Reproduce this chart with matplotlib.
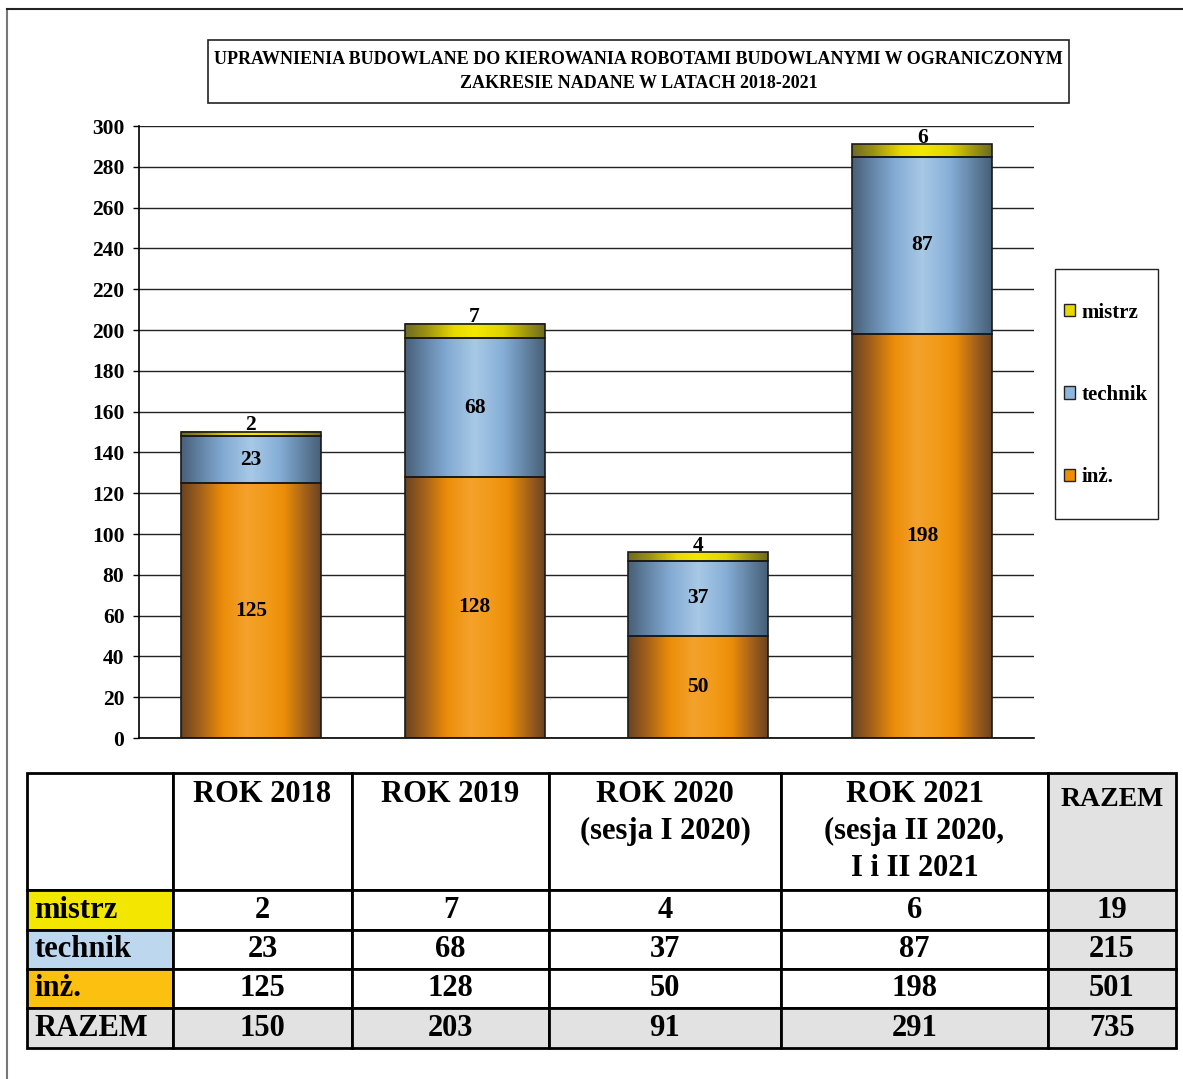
import matplotlib.pyplot as plt
import numpy as np
from matplotlib.colors import LinearSegmentedColormap
from matplotlib.patches import Patch, Rectangle
from matplotlib.lines import Line2D

plt.rcParams["font.family"] = ["Liberation Serif", "DejaVu Serif"]
plt.rcParams["font.weight"] = "bold"

# data
years = ["ROK 2018", "ROK 2019", "ROK 2020\n(sesja I 2020)", "ROK 2021\n(sesja II 2020,\nI i II 2021"]
groups = ["mistrz", "technik", "inż."]
mistrz = [2, 7, 4, 6]
technik = [23, 68, 37, 87]
inz = [125, 128, 50, 198]
yticks = list(range(0, 301, 20))

title = ("UPRAWNIENIA BUDOWLANE DO KIEROWANIA ROBOTAMI BUDOWLANYMI W OGRANICZONYM\n"
         "ZAKRESIE NADANE W LATACH 2018-2021")

W, H = 1183, 1079
fig = plt.figure(figsize=(W / 100, H / 100), dpi=100)


def fbox(x0, y0, x1, y1):
    # pixel box (top-left origin) -> figure fraction rect
    return [x0 / W, 1 - y1 / H, (x1 - x0) / W, (y1 - y0) / H]


# outer frame
fig.add_artist(Line2D([7 / W, 7 / W], [0, 1 - 9 / H], color="#777777", lw=1.5))
fig.add_artist(Line2D([7 / W, 1], [1 - 9 / H, 1 - 9 / H], color="#222222", lw=1.5))

# title box
tx = fbox(208, 40, 1069, 103)
fig.add_artist(Rectangle((tx[0], tx[1]), tx[2], tx[3], transform=fig.transFigure,
                         fill=False, edgecolor="#222222", lw=1.2))
fig.text(tx[0] + tx[2] / 2, tx[1] + tx[3] / 2, title, ha="center", va="center",
         fontsize=13, fontweight="bold", linespacing=1.6)

# bar gradients: dark edges, bright middle
cm_inz = LinearSegmentedColormap.from_list("inz", [
    (0.0, "#6a4320"), (0.12, "#9c5e1c"), (0.3, "#ec8d08"), (0.47, "#f4a22c"),
    (0.62, "#f29a18"), (0.74, "#ec8d08"), (0.9, "#9c5e1c"), (1.0, "#6a4320")])
cm_tech = LinearSegmentedColormap.from_list("tech", [
    (0.0, "#485f78"), (0.12, "#5f7f9f"), (0.3, "#82aad3"), (0.5, "#a8c9e6"),
    (0.7, "#86afd8"), (0.88, "#5f7f9f"), (1.0, "#485f78")])
cm_mist = LinearSegmentedColormap.from_list("mist", [
    (0.0, "#6f6a22"), (0.15, "#9a9210"), (0.35, "#e8d900"), (0.5, "#f4e800"),
    (0.7, "#e0d400"), (0.88, "#9a9210"), (1.0, "#6f6a22")])

ax = fig.add_axes(fbox(139, 126, 1034, 738))
x = np.arange(len(years))
bw = 0.625
grad = np.linspace(0, 1, 256).reshape(1, -1)

ax.set_yticks(yticks)
ax.yaxis.grid(True, color="#222222", lw=1.0)
ax.set_axisbelow(True)

bottoms = np.zeros(len(years))
for vals, cmap in [(inz, cm_inz), (technik, cm_tech), (mistrz, cm_mist)]:
    for xi, b, v in zip(x, bottoms, vals):
        ax.imshow(grad, cmap=cmap, aspect="auto", interpolation="bicubic",
                  extent=(xi - bw / 2, xi + bw / 2, b, b + v), zorder=2)
    ax.bar(x, vals, bw, bottom=bottoms, fill=False, edgecolor="#1a1a1a", lw=1.2, zorder=3)
    bottoms = bottoms + np.array(vals)

ax.set_xlim(-0.5, len(years) - 0.5)
ax.set_ylim(0, 300)

# value labels
for xi, a, t, m in zip(x, inz, technik, mistrz):
    ax.text(xi, a / 2, str(a), ha="center", va="center", fontsize=15.5, fontweight="bold", zorder=4)
    ax.text(xi, a + t / 2, str(t), ha="center", va="center", fontsize=15.5, fontweight="bold", zorder=4)
    ax.annotate(str(m), (xi, a + t + m), xytext=(0, -2.5), textcoords="offset points",
                ha="center", va="bottom", fontsize=15.5, fontweight="bold", zorder=4)

for s in ["top", "right"]:
    ax.spines[s].set_visible(False)
ax.spines["left"].set_linewidth(1.2)
ax.spines["bottom"].set_linewidth(1.2)
ax.set_xticks([])
ax.tick_params(axis="y", length=4.5, width=1.0, pad=6, labelsize=15.5)
for lab in ax.get_yticklabels():
    lab.set_fontweight("bold")

# legend
lb = fbox(1055, 269, 1158, 519)
fig.add_artist(Rectangle((lb[0], lb[1]), lb[2], lb[3], transform=fig.transFigure,
                         fill=False, edgecolor="#222222", lw=1.0))
handles = [Patch(facecolor="#e6d800", edgecolor="#222222", label="mistrz"),
           Patch(facecolor="#8fb7de", edgecolor="#222222", label="technik"),
           Patch(facecolor="#ee8d08", edgecolor="#222222", label="inż.")]
fig.legend(handles=handles, loc="center left", bbox_to_anchor=(1064 / W, 1 - 395 / H),
           frameon=False, prop={"weight": "bold", "size": 15}, handlelength=0.55,
           handleheight=0.55, handletextpad=0.3, labelspacing=3.0, borderpad=0,
           borderaxespad=0)

# table
tab_ax = fig.add_axes(fbox(27, 773, 1176, 1048))
tab_ax.axis("off")

tot_m, tot_t, tot_i = sum(mistrz), sum(technik), sum(inz)
year_tot = [a + b + c for a, b, c in zip(mistrz, technik, inz)]
header = [""] + [y + "\n" * (2 - y.count("\n")) for y in years] + ["RAZEM\n\n"]
rows = [header,
        ["mistrz"] + [str(v) for v in mistrz] + [str(tot_m)],
        ["technik"] + [str(v) for v in technik] + [str(tot_t)],
        ["inż."] + [str(v) for v in inz] + [str(tot_i)],
        ["RAZEM"] + [str(v) for v in year_tot] + [str(sum(year_tot))]]

gray = "#e1e2e1"
row_col = ["white", "#f3e600", "#bdd7ee", "#fbc010", gray]
col_w = [146, 179, 197, 232, 267, 128]
row_h = [117, 40, 39, 39, 40]

tbl = tab_ax.table(cellText=rows, bbox=[0, 0, 1, 1], cellLoc="center")
tbl.auto_set_font_size(False)
for (r, c), cell in tbl.get_celld().items():
    cell.set_width(col_w[c])
    cell.set_height(row_h[r])
    cell.set_linewidth(2.0)
    cell.set_edgecolor("black")
    txt = cell.get_text()
    txt.set_fontsize(20 if (r == 0 and c == 5) else 22)
    txt.set_fontweight("bold")
    txt.set_linespacing(1.35)
    if c == 0:
        cell.set_facecolor(row_col[r])
        cell.PAD = 0.05
        txt.set_ha("left")
        cell._loc = "left"
    elif r == 4 or c == 5:
        cell.set_facecolor(gray)
    else:
        cell.set_facecolor("white")

fig.savefig("out.png", dpi=100)
